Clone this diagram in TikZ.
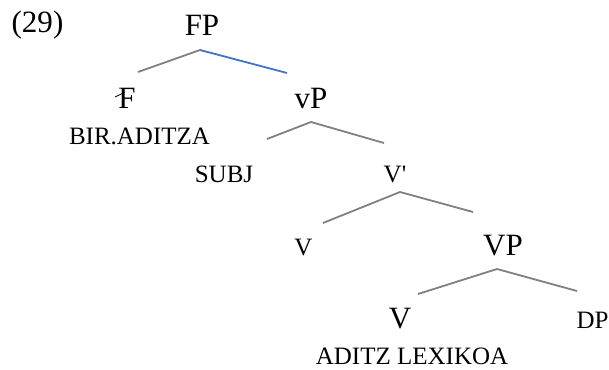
\documentclass[tikz,border=0pt]{standalone}
\usepackage{fontspec}
\setmainfont{Liberation Serif}
\begin{document}
\begin{tikzpicture}[x=1pt,y=-1pt,
  big/.style={font=\fontsize{31}{36}\selectfont, inner sep=0pt, anchor=base},
  small/.style={font=\fontsize{25}{30}\selectfont, inner sep=0pt, anchor=base},
  branch/.style={draw=black!50, line width=1.8pt},
  bluebranch/.style={draw={rgb,255:red,68;green,114;blue,196}, line width=1.8pt}]
\useasboundingbox (0,0) rectangle (609,369);
% labels
\node[big] (ex) at (37.5,33) {(29)};
\node[big] (FP) at (202,35) {FP};
\node[big] (F) at (127,108) {F};
\node[big] (vP) at (311,108) {vP};
\node[small] (bir) at (139.5,144) {BIR.ADITZA};
\node[small] (subj) at (224,182) {SUBJ};
\node[small] (vbar) at (395,182) {V\textquotesingle};
\node[small] (vsm) at (303.5,255) {V};
\node[big] (VP) at (503,255) {VP};
\node[big] (V) at (400,328) {V};
\node[small] (DP) at (592.5,328) {DP};
\node[small] (lex) at (412,364.5) {ADITZ LEXIKOA};
% strike on F
\coordinate (fs1) at (115,97);
\coordinate (fs2) at (124.5,92.5);
\draw[line width=0.8pt] (fs1) -- (fs2);
% branch points
\coordinate (FPa) at (200,50);
\coordinate (FPl) at (138,72);
\coordinate (FPr) at (287,73);
\coordinate (vPa) at (311,122);
\coordinate (vPl) at (267,139);
\coordinate (vPr) at (384,143);
\coordinate (vba) at (400,192);
\coordinate (vbl) at (323,223);
\coordinate (vbr) at (473,212);
\coordinate (VPa) at (497,269);
\coordinate (VPl) at (418,294);
\coordinate (VPr) at (577,291);
\draw[branch] (FPl) -- (FPa);
\draw[bluebranch] (FPa) -- (FPr);
\draw[branch] (vPl) -- (vPa) -- (vPr);
\draw[branch] (vbl) -- (vba) -- (vbr);
\draw[branch] (VPl) -- (VPa) -- (VPr);
\end{tikzpicture}
\end{document}
